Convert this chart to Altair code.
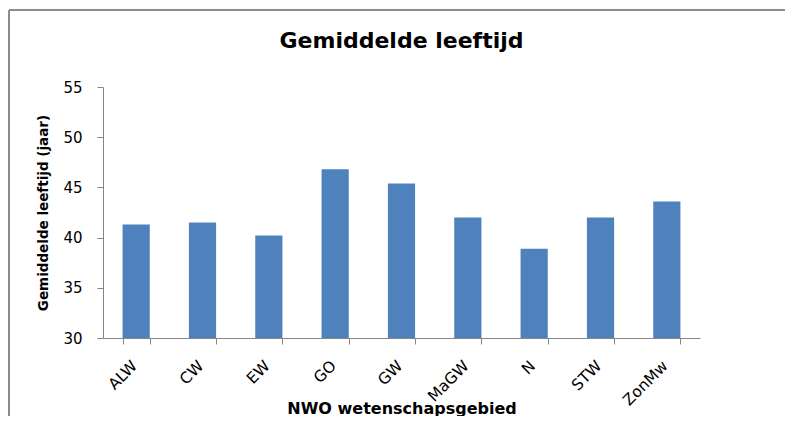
import altair as alt
import pandas as pd

categories = ["ALW", "CW", "EW", "GO", "GW", "MaGW", "N", "STW", "ZonMw"]
values = [41.3, 41.5, 40.2, 46.8, 45.4, 42.0, 38.9, 42.0, 43.6]
y_ticks = [30, 35, 40, 45, 50, 55]
chart_title = "Gemiddelde leeftijd"

df = pd.DataFrame({"gebied": categories, "leeftijd": values})

FONT = "DejaVu Sans"
AXIS_GRAY = "#868686"
FRAME_GRAY = "#8c8c8c"

bars = alt.Chart(df).mark_bar(color="#4F81BD", clip=True).encode(
    x=alt.X(
        "gebied:N",
        sort=categories,
        scale=alt.Scale(paddingInner=0.59, paddingOuter=0.295),
        axis=alt.Axis(
            title="NWO wetenschapsgebied",
            titleFont=FONT,
            titleFontSize=16,
            titleFontWeight="bold",
            titleColor="#000000",
            titleY=75,
            titleBaseline="alphabetic",
            labelAngle=-45,
            labelFont=FONT,
            labelFontSize=15.5,
            labelColor="#000000",
            labelPadding=14,
            labelOffset=-7,
            tickBand="extent",
            tickSize=6,
            tickColor=AXIS_GRAY,
            domainColor=AXIS_GRAY,
            grid=False,
        ),
    ),
    y=alt.Y(
        "leeftijd:Q",
        scale=alt.Scale(domain=[30, 55], nice=False, zero=False),
        axis=alt.Axis(
            title="Gemiddelde leeftijd (jaar)",
            titleFont=FONT,
            titleFontSize=13.5,
            titleFontWeight="bold",
            titleColor="#000000",
            titleAngle=-90,
            titleBaseline="middle",
            titleX=-60,
            titleY=125.5,
            values=y_ticks,
            labelFont=FONT,
            labelFontSize=15,
            labelColor="#000000",
            labelPadding=15,
            tickSize=6,
            tickColor=AXIS_GRAY,
            domainColor=AXIS_GRAY,
            grid=False,
        ),
    ),
)

single = alt.Data(values=[{"t": chart_title}])
left_line = alt.Chart(single).mark_rule(color=FRAME_GRAY, strokeWidth=2).encode(
    x=alt.value(-94), x2=alt.value(-94), y=alt.value(-77), y2=alt.value(340)
)
top_line = alt.Chart(single).mark_rule(color=FRAME_GRAY, strokeWidth=2).encode(
    x=alt.value(-94), x2=alt.value(690), y=alt.value(-77), y2=alt.value(-77)
)
title_text = alt.Chart(single).mark_text(
    font=FONT, fontSize=22, fontWeight="bold", color="#000000",
    align="center", baseline="alphabetic",
).encode(
    text="t:N", x=alt.value(298.5), y=alt.value(-39)
)

chart = alt.layer(bars, left_line, top_line, title_text).properties(
    width=597,
    height=251,
    background="white",
    autosize=alt.AutoSizeParams(type="none"),
    padding={"left": 95, "top": 79, "right": 85, "bottom": 78},
).configure_view(strokeWidth=0)

chart.save("out.html", embed_options={"renderer": "svg", "actions": False})
